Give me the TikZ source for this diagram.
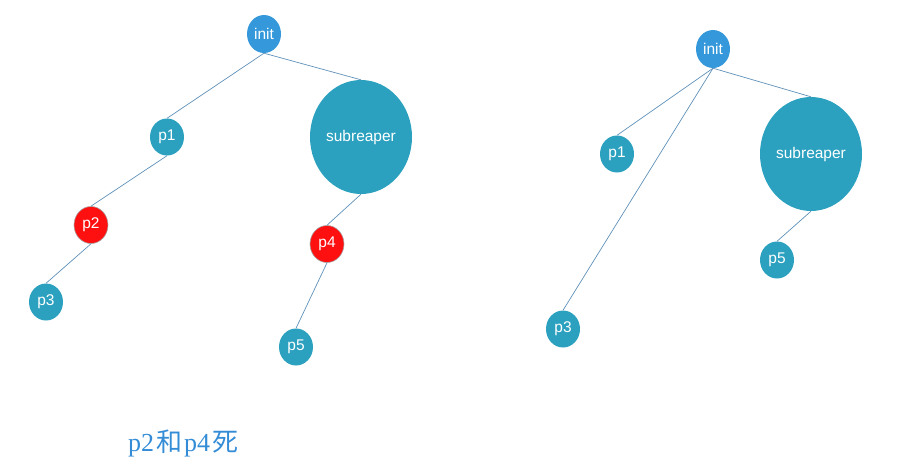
\documentclass[tikz,border=0pt]{standalone}
\usepackage{fontspec}
\setmainfont{Liberation Sans}
\newfontfamily\cjkfont{Noto Sans CJK SC}
\newfontfamily\latinserif{Liberation Serif}
\usetikzlibrary{shapes.geometric}
\definecolor{initblue}{RGB}{52,152,219}
\definecolor{nodeteal}{RGB}{43,161,191}
\definecolor{deadred}{RGB}{255,16,16}
\definecolor{edgeblue}{RGB}{95,145,185}
\definecolor{textblue}{RGB}{52,140,214}
\begin{document}
\begin{tikzpicture}[x=1pt,y=-1pt,
  proc/.style={ellipse, fill=nodeteal, text=white, inner sep=0pt,
    minimum width=34pt, minimum height=37pt, font=\fontsize{15.5}{15.5}\selectfont},
  initnode/.style={proc, fill=initblue, minimum height=38pt},
  dead/.style={proc, fill=deadred, draw=gray!70, line width=0.6pt},
  bignode/.style={proc, minimum width=102pt, minimum height=114pt},
  edge/.style={draw=edgeblue, line width=0.7pt}]
\useasboundingbox (0,0) rectangle (900,469);
% left tree
\node[initnode] (Linit) at (264,34) {init};
\node[proc] (Lp1) at (167,137) {p1};
\node[bignode] (Lsub) at (361,137) {subreaper};
\node[dead] (Lp2) at (91,225) {p2};
\node[proc] (Lp3) at (46,302) {p3};
\node[dead] (Lp4) at (327,244) {p4};
\node[proc] (Lp5) at (296,347) {p5};
\draw[edge] (Linit.south) -- (Lp1.north);
\draw[edge] (Linit.south) -- (Lsub.north);
\draw[edge] (Lp1.south) -- (Lp2.north);
\draw[edge] (Lp2.south) -- (Lp3.north);
\draw[edge] (Lsub.south) -- (Lp4.north);
\draw[edge] (Lp4.south) -- (Lp5.north);
% right tree
\node[initnode] (Rinit) at (713,49) {init};
\node[proc] (Rp1) at (617,154) {p1};
\node[bignode] (Rsub) at (811,154) {subreaper};
\node[proc] (Rp5) at (777,260) {p5};
\node[proc] (Rp3) at (563,329) {p3};
\draw[edge] (Rinit.south) -- (Rp1.north);
\draw[edge] (Rinit.south) -- (Rsub.north);
\draw[edge] (Rinit.south) -- (Rp3.north);
\draw[edge] (Rsub.south) -- (Rp5.north);
% caption
\node[text=textblue, font=\fontsize{26}{26}\selectfont, inner sep=0pt] (cap) at (183,443)
  {{\latinserif p2}\hspace{2pt}{\cjkfont 和}\hspace{2pt}{\latinserif p4}\hspace{2pt}{\cjkfont 死}};
\end{tikzpicture}
\end{document}
